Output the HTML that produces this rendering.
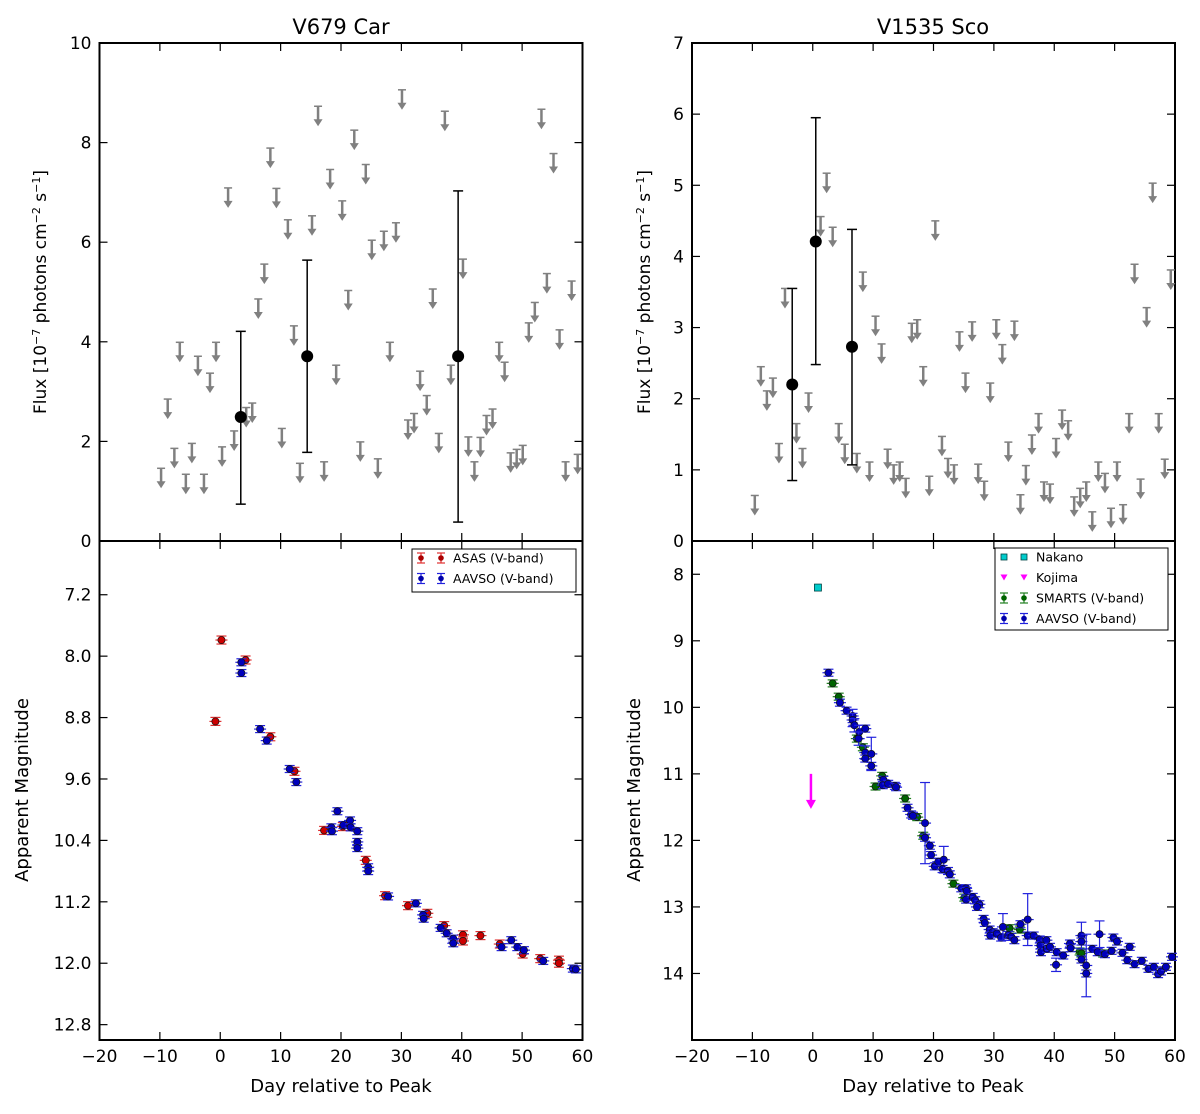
<!DOCTYPE html>
<html><head><meta charset="utf-8">
<style>
html,body{margin:0;padding:0;background:#fff;}
svg{display:block;font-family:"DejaVu Sans","Liberation Sans",sans-serif;}
</style></head>
<body>
<svg id="fig" width="1200" height="1114" viewBox="0 0 1200 1114" xmlns="http://www.w3.org/2000/svg"></svg>
<script>
// ---------- DATA ----------
const carUpperDays = [-9.8,-8.7,-7.6,-6.7,-5.7,-4.7,-3.7,-2.7,-1.7,-0.7,0.3,1.3,2.3,4.3,5.3,6.3,7.3,8.3,9.3,10.2,11.2,12.2,13.2,15.2,16.2,17.2,18.2,19.2,20.2,21.2,22.2,23.2,24.1,25.1,26.1,27.1,28.1,29.1,30.1,31.1,32.1,33.1,34.2,35.2,36.2,37.2,38.2,40.2,41.1,42.1,43.1,44.1,45.1,46.2,47.1,48.1,49.1,50.1,51.1,52.1,53.2,54.1,55.2,56.2,57.2,58.2,59.2];
const carUpperFlux = [1.46,2.85,1.86,3.99,1.34,1.96,3.71,1.34,3.37,3.99,1.89,7.09,2.21,2.68,2.77,4.86,5.56,7.89,7.08,2.26,6.45,4.32,1.56,6.53,8.73,1.59,7.46,3.53,6.83,5.03,8.25,1.99,7.56,6.04,1.65,6.22,3.99,6.39,9.06,2.43,2.56,3.41,2.92,5.06,2.16,8.63,3.53,5.66,2.09,1.59,2.08,2.52,2.65,3.99,3.59,1.77,1.84,1.92,4.38,4.79,8.67,5.37,7.78,4.24,1.59,5.22,1.74];
const carDetDays = [3.4,14.4,39.4];
const carDetFlux = [2.49,3.71,3.71];
const carDetHi = [4.21,5.64,7.03];
const carDetLo = [0.74,1.78,0.38];

const scoUpperDays = [-9.6,-8.6,-7.6,-6.6,-5.6,-4.6,-2.7,-1.7,-0.7,1.3,2.3,3.3,4.3,5.3,7.3,8.3,9.4,10.4,11.4,12.4,13.4,14.4,15.4,16.4,17.3,18.3,19.3,20.3,21.4,22.4,23.4,24.3,25.3,26.4,27.4,28.4,29.4,30.4,31.4,32.4,33.4,34.4,35.3,36.3,37.4,38.3,39.3,40.3,41.3,42.3,43.3,44.3,45.3,46.3,47.3,48.4,49.4,50.4,51.4,52.4,53.3,54.3,55.3,56.3,57.3,58.3,59.3];
const scoUpperFlux = [0.64,2.45,2.11,2.29,1.37,3.55,1.65,1.30,2.08,4.56,5.17,4.41,1.65,1.36,1.23,3.78,1.11,3.16,2.77,1.29,1.07,1.11,0.88,3.06,3.11,2.45,0.91,4.50,1.47,1.16,1.07,2.94,2.36,3.08,1.08,0.84,2.22,3.11,2.76,1.39,3.09,0.65,1.06,1.49,1.79,0.83,0.80,1.44,1.84,1.69,0.62,0.74,0.83,0.41,1.11,0.95,0.46,1.11,0.51,1.79,3.89,0.87,3.28,5.03,1.79,1.15,3.81];
const scoDetDays = [-3.4,0.5,6.5];
const scoDetFlux = [2.2,4.21,2.73];
const scoDetHi = [3.55,5.95,4.38];
const scoDetLo = [0.85,2.48,1.07];

const asasDays = [0.2,4.2,-0.8,8.3,12.3,17.2,20.3,24.1,27.3,31.1,34.3,37.1,40.2,40.2,43.1,46.3,50.1,53.0,56.1,56.1];
const asasMag = [7.79,8.05,8.85,9.05,9.5,10.27,10.22,10.66,11.12,11.25,11.35,11.51,11.63,11.71,11.64,11.75,11.88,11.94,11.96,12.0];
const carAavsoDays = [3.5,3.5,6.6,7.7,11.5,12.6,19.4,18.4,18.5,20.4,21.5,21.6,22.7,22.7,22.7,24.5,24.5,27.8,32.4,33.6,33.7,36.5,37.5,38.6,38.6,46.6,48.2,49.2,50.3,53.5,58.4,58.9];
const carAavsoMag = [8.08,8.22,8.95,9.1,9.47,9.64,10.02,10.23,10.28,10.2,10.14,10.23,10.28,10.42,10.5,10.75,10.8,11.13,11.22,11.37,11.42,11.54,11.61,11.68,11.74,11.79,11.7,11.79,11.83,11.97,12.07,12.08];

const nakanoDays = [0.86];
const nakanoMag = [8.2];
const kojimaDays = [-0.3];
const kojimaMag = [11.0];
const smartsDays = [3.3,4.3,7.3,8.3,11.5,10.4,15.3,17.3,18.3,23.3,25.1,32.6,34.3,44.2,44.5,48.1];
const smartsMag = [9.64,9.84,10.47,10.6,11.03,11.19,11.37,11.65,11.93,12.65,12.86,13.32,13.34,13.67,13.7,13.7];
const scoAavsoDays = [2.6,4.5,5.6,6.6,6.6,6.9,7.7,8.7,7.6,8.7,8.7,9.7,9.7,11.7,11.6,12.5,13.6,13.8,15.7,16.3,16.6,18.6,18.6,19.4,19.6,20.2,20.8,21.7,21.5,22.4,22.7,24.6,25.4,25.5,25.4,26.5,26.9,27.6,27.2,28.3,28.5,29.3,29.8,29.4,30.5,31.2,31.5,32.4,32.9,33.4,34.4,35.6,35.6,36.6,37.6,37.7,37.8,38.7,38.8,39.3,40.4,41.5,40.3,42.6,42.7,44.5,44.5,44.5,45.3,45.3,46.3,47.5,47.2,48.4,49.5,49.8,50.4,51.3,52.5,52.1,53.3,54.5,55.6,56.5,57.2,57.7,58.5,59.5];
const scoAavsoMag = [9.48,9.93,10.05,10.13,10.19,10.27,10.37,10.32,10.47,10.68,10.77,10.7,10.88,11.09,11.17,11.15,11.18,11.2,11.51,11.61,11.63,11.74,11.96,12.08,12.22,12.39,12.32,12.29,12.43,12.46,12.51,12.72,12.72,12.76,12.89,12.85,12.9,12.96,13.0,13.18,13.24,13.34,13.38,13.43,13.4,13.46,13.3,13.42,13.45,13.5,13.26,13.19,13.43,13.43,13.49,13.58,13.68,13.5,13.63,13.6,13.68,13.73,13.87,13.55,13.62,13.43,13.52,13.79,13.88,14.0,13.63,13.41,13.68,13.71,13.66,13.46,13.52,13.69,13.6,13.8,13.86,13.81,13.93,13.9,14.01,13.97,13.9,13.75];
const scoAavsoErr = [0.03,0.05,0.05,0.1,0.1,0.1,0.1,0.05,0.1,0.1,0.05,0.25,0.05,0.05,0.05,0.05,0.05,0.05,0.03,0.05,0.05,0.61,0.05,0.05,0.05,0.05,0.05,0.2,0.05,0.05,0.05,0.05,0.05,0.05,0.05,0.05,0.05,0.05,0.05,0.05,0.05,0.05,0.05,0.05,0.05,0.05,0.2,0.05,0.05,0.05,0.05,0.39,0.05,0.05,0.05,0.05,0.05,0.05,0.05,0.05,0.05,0.05,0.1,0.05,0.05,0.2,0.05,0.05,0.47,0.05,0.05,0.2,0.05,0.05,0.05,0.05,0.05,0.05,0.05,0.05,0.05,0.05,0.05,0.05,0.05,0.05,0.05,0.05];

const dayTicks = [-20,-10,0,10,20,30,40,50,60];
const carFluxTicks = [0,2,4,6,8,10];
const carMagTicks = [7.2,8.0,8.8,9.6,10.4,11.2,12.0,12.8];
const scoFluxTicks = [0,1,2,3,4,5,6,7];
const scoMagTicks = [8,9,10,11,12,13,14];

// ---------- HELPERS ----------
const NS = "http://www.w3.org/2000/svg";
const svg = document.getElementById('fig');
function mk(tag, attrs, parent){
  const e = document.createElementNS(NS, tag);
  for (const k in attrs) e.setAttribute(k, attrs[k]);
  (parent||svg).appendChild(e);
  return e;
}
function lin(d0,d1,p0,p1){ return v => p0 + (v-d0)/(d1-d0)*(p1-p0); }

const L = {x0:99.5, x1:582.5}, R = {x0:692, x1:1175};
const TOP = {y0:43, y1:541}, BOT = {y0:541, y1:1040};
const xL = lin(-20,60,L.x0,L.x1), xR = lin(-20,60,R.x0,R.x1);
const yCarF = lin(0,10,TOP.y1,TOP.y0), yScoF = lin(0,7,TOP.y1,TOP.y0);
const yCarM = lin(6.5,13.0,BOT.y0,BOT.y1), yScoM = lin(7.5,15.0,BOT.y0,BOT.y1);

function fmtTick(v, dec){ const s = v.toFixed(dec); return s.replace('-', '\u2212'); }

function drawAxes(name, X, ys, y0, y1, xs, yTicks, yDec, showXLabels){
  const g = mk('g', {});
  
  
  mk('rect', {x:X.x0, y:y0, width:X.x1-X.x0, height:y1-y0, fill:'none', stroke:'#000', 'stroke-width':2}, g);
  dayTicks.forEach(t => {
    const px = xs(t);
    mk('line', {x1:px, x2:px, y1:y1, y2:y1-8, stroke:'#000', 'stroke-width':1.2}, g);
    mk('line', {x1:px, x2:px, y1:y0, y2:y0+8, stroke:'#000', 'stroke-width':1.2}, g);
    if (showXLabels){
      const t2 = mk('text', {x:px, y:y1+22, 'font-size':17, 'text-anchor':'middle'}, g);
      t2.textContent = fmtTick(t,0);
      
      
    }
  });
  yTicks.forEach(t => {
    const py = ys(t);
    mk('line', {x1:X.x0, x2:X.x0+8, y1:py, y2:py, stroke:'#000', 'stroke-width':1.2}, g);
    mk('line', {x1:X.x1, x2:X.x1-8, y1:py, y2:py, stroke:'#000', 'stroke-width':1.2}, g);
    const tt = mk('text', {x:X.x0-8, y:py+6, 'font-size':17, 'text-anchor':'end'}, g);
    tt.textContent = fmtTick(t,yDec);
    
    
  });
}

function upperArrow(g, px, py){
  const c = '#808080';
  mk('line', {x1:px-4, x2:px+4, y1:py, y2:py, stroke:c, 'stroke-width':1.5}, g);
  mk('line', {x1:px, x2:px, y1:py, y2:py+14, stroke:c, 'stroke-width':2.5}, g);
  mk('polygon', {points:`${px-4.5},${py+13} ${px+4.5},${py+13} ${px},${py+20}`, fill:c}, g);
}

function drawUpper(name, days, flux, xs, ys){
  const g = mk('g', {});
  
  
  for (let i=0;i<days.length;i++){
    const px = xs(days[i]), py = ys(flux[i]);
    if (px < 99 || (px>583 && px<690) || px>1176) continue;
    upperArrow(g, px, py);
  }
}
function drawDet(name, days, flux, hi, lo, xs, ys){
  const g = mk('g', {});
  
  
  for (let i=0;i<days.length;i++){
    const px = xs(days[i]);
    mk('line', {x1:px, x2:px, y1:ys(hi[i]), y2:ys(lo[i]), stroke:'#000', 'stroke-width':1.5}, g);
    mk('line', {x1:px-5, x2:px+5, y1:ys(hi[i]), y2:ys(hi[i]), stroke:'#000', 'stroke-width':1.5}, g);
    mk('line', {x1:px-5, x2:px+5, y1:ys(lo[i]), y2:ys(lo[i]), stroke:'#000', 'stroke-width':1.5}, g);
    const c = mk('circle', {cx:px, cy:ys(flux[i]), r:6, fill:'#000'}, g);
    
    
  }
}
function errMarker(g, px, py, col, ec, errPx, shape){
  mk('line', {x1:px, x2:px, y1:py-errPx, y2:py+errPx, stroke:ec, 'stroke-width':1.2}, g);
  mk('line', {x1:px-5, x2:px+5, y1:py-errPx, y2:py-errPx, stroke:ec, 'stroke-width':1.2}, g);
  mk('line', {x1:px-5, x2:px+5, y1:py+errPx, y2:py+errPx, stroke:ec, 'stroke-width':1.2}, g);
  mk('line', {x1:px-6, x2:px+6, y1:py, y2:py, stroke:ec, 'stroke-width':1.2}, g);
  mk('circle', {cx:px, cy:py, r:3.6, fill:col, stroke:'#111', 'stroke-width':0.7}, g);
}
function drawMag(name, days, mag, xs, ys, col, ec, errArr, defErr, X){
  const g = mk('g', {});
  
  
  for (let i=0;i<days.length;i++){
    const px = xs(days[i]);
    if (px > X.x1+2) continue;
    const py = ys(mag[i]);
    const e = errArr ? Math.abs(ys(mag[i]+errArr[i]) - py) : defErr;
    errMarker(g, px, py, col, ec, Math.max(e,3.5));
  }
}

// ---------- PANELS ----------
drawAxes('v679-flux-axes', L, yCarF, TOP.y0, TOP.y1, xL, carFluxTicks, 0, false);
drawAxes('v679-mag-axes', L, yCarM, BOT.y0, BOT.y1, xL, carMagTicks, 1, true);
drawAxes('v1535-flux-axes', R, yScoF, TOP.y0, TOP.y1, xR, scoFluxTicks, 0, false);
drawAxes('v1535-mag-axes', R, yScoM, BOT.y0, BOT.y1, xR, scoMagTicks, 0, true);

drawUpper('v679-upper-limits', carUpperDays, carUpperFlux, xL, yCarF);
drawDet('v679-detections', carDetDays, carDetFlux, carDetHi, carDetLo, xL, yCarF);
drawUpper('v1535-upper-limits', scoUpperDays, scoUpperFlux, xR, yScoF);
drawDet('v1535-detections', scoDetDays, scoDetFlux, scoDetHi, scoDetLo, xR, yScoF);

drawMag('asas-series', asasDays, asasMag, xL, yCarM, '#cc0000', '#e03030', null, 4, L);
drawMag('v679-aavso-series', carAavsoDays, carAavsoMag, xL, yCarM, '#0000bb', '#2222dd', null, 3, L);

drawMag('smarts-series', smartsDays, smartsMag, xR, yScoM, '#006400', '#208020', null, 3, R);
drawMag('v1535-aavso-series', scoAavsoDays, scoAavsoMag, xR, yScoM, '#0000bb', '#2222dd', scoAavsoErr, 3, R);

(function(){
  const g = mk('g', {});
  
  
  for (let i=0;i<nakanoDays.length;i++){
    const px = xR(nakanoDays[i]), py = yScoM(nakanoMag[i]);
    mk('rect', {x:px-3.5, y:py-3.5, width:7, height:7, fill:'#00cccc', stroke:'#004444', 'stroke-width':0.8}, g);
  }
  const g2 = mk('g', {});
  
  
  for (let i=0;i<kojimaDays.length;i++){
    const px = xR(kojimaDays[i]), py = yScoM(kojimaMag[i]);
    mk('line', {x1:px, x2:px, y1:py, y2:py+28, stroke:'#ff00ff', 'stroke-width':2.5}, g2);
    mk('polygon', {points:`${px-5},${py+26} ${px+5},${py+26} ${px},${py+35}`, fill:'#ff00ff'}, g2);
  }
})();

// ---------- TITLES / LABELS ----------
function txt(name, x, y, s, size, extra){
  const t = mk('text', Object.assign({x:x, y:y, 'font-size':size, 'text-anchor':'middle'}, extra||{}));
  t.textContent = s;
  
  
  return t;
}
txt('v679-title', 341, 34, 'V679 Car', 21);
txt('v1535-title', 933, 34, 'V1535 Sco', 21);
txt('v679-x-axis-title', 341, 1092, 'Day relative to Peak', 18);
txt('v1535-x-axis-title', 933, 1092, 'Day relative to Peak', 18);
txt('v679-mag-y-axis-title', 0, 0, 'Apparent Magnitude', 18, {transform:'translate(28,790) rotate(-90)'});
txt('v1535-mag-y-axis-title', 0, 0, 'Apparent Magnitude', 18, {transform:'translate(640,790) rotate(-90)'});

function fluxLabel(name, cx, cy){
  const t = mk('text', {x:0, y:0, 'font-size':17, 'text-anchor':'middle', transform:`translate(${cx},${cy}) rotate(-90)`});
  
  
  const parts = [['Flux [10',0],['\u22127',1],[' photons cm',0],['\u22122',1],[' s',0],['\u22121',1],[']',0]];
  parts.forEach(p => {
    const s = mk('tspan', {}, t);
    if (p[1]) { s.setAttribute('font-size', 11); s.setAttribute('baseline-shift', 'super'); }
    s.textContent = p[0];
  });
}
fluxLabel('v679-flux-y-axis-title', 46, 292);
fluxLabel('v1535-flux-y-axis-title', 650, 292);

// ---------- LEGENDS ----------
function legend(name, x, y, w, h, entries){
  const g = mk('g', {});
  
  
  mk('rect', {x:x, y:y, width:w, height:h, fill:'#fff', stroke:'#000', 'stroke-width':1}, g);
  entries.forEach((e, i) => {
    const ey = y + 9 + i*20.5;
    const eg = mk('g', {}, g);
    
    
    [x+9, x+29].forEach(mx => {
      if (e.kind === 'err'){
        mk('line', {x1:mx, x2:mx, y1:ey-5, y2:ey+5, stroke:e.ec, 'stroke-width':1.2}, eg);
        mk('line', {x1:mx-4, x2:mx+4, y1:ey-5, y2:ey-5, stroke:e.ec, 'stroke-width':1.2}, eg);
        mk('line', {x1:mx-4, x2:mx+4, y1:ey+5, y2:ey+5, stroke:e.ec, 'stroke-width':1.2}, eg);
        mk('circle', {cx:mx, cy:ey, r:2.8, fill:e.col}, eg);
      } else if (e.kind === 'sq'){
        mk('rect', {x:mx-3, y:ey-3, width:6, height:6, fill:'#00cccc', stroke:'#004444', 'stroke-width':0.8}, eg);
      } else {
        mk('polygon', {points:`${mx-3.5},${ey-3} ${mx+3.5},${ey-3} ${mx},${ey+3}`, fill:'#ff00ff'}, eg);
      }
    });
    const t = mk('text', {x:x+41, y:ey+4.5, 'font-size':12.5}, eg);
    t.textContent = e.label;
  });
}
legend('v679-legend', 412, 549, 164, 43, [
  {kind:'err', col:'#aa0000', ec:'#e03030', label:'ASAS (V-band)'},
  {kind:'err', col:'#0000aa', ec:'#2222dd', label:'AAVSO (V-band)'}
]);
legend('v1535-legend', 995, 548, 173, 82, [
  {kind:'sq', label:'Nakano'},
  {kind:'tri', label:'Kojima'},
  {kind:'err', col:'#006400', ec:'#208020', label:'SMARTS (V-band)'},
  {kind:'err', col:'#0000aa', ec:'#2222dd', label:'AAVSO (V-band)'}
]);
</script>
</body></html>
